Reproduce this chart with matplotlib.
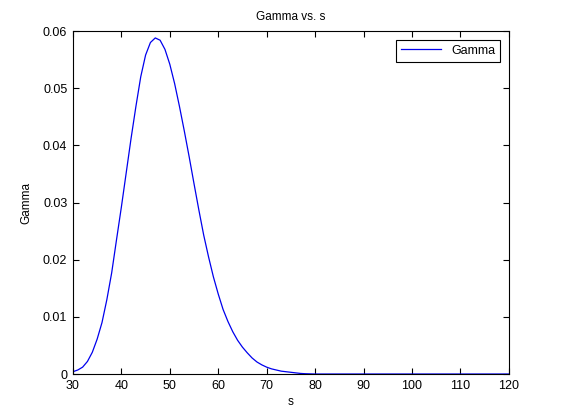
import matplotlib
matplotlib.use("Agg")
from matplotlib import pyplot as plt

# valores
s = [30, 31, 32, 33, 34, 35, 36, 37, 38, 39, 40, 41, 42, 43, 44, 45, 46, 47, 48, 49,
     50, 51, 52, 53, 54, 55, 56, 57, 58, 59, 60, 61, 62, 63, 64, 65, 66, 67, 68, 69,
     70, 71, 72, 73, 74, 75, 76, 77, 78, 80, 90, 100, 110, 120]
gamma = [0.0004, 0.0007, 0.0012, 0.0022, 0.0038, 0.0061, 0.0090, 0.0130, 0.0177, 0.0235,
         0.0292, 0.0352, 0.0412, 0.0468, 0.0520, 0.0558, 0.0580, 0.0588, 0.0584, 0.0568,
         0.0542, 0.0508, 0.0468, 0.0425, 0.0380, 0.0333, 0.0287, 0.0243, 0.0205, 0.0170,
         0.0140, 0.0113, 0.0092, 0.0074, 0.0059, 0.0047, 0.0037, 0.0028, 0.0021, 0.0016,
         0.0012, 0.0009, 0.0007, 0.0005, 0.0004, 0.0003, 0.0002, 0.0001, 0.00005, 0.0,
         0.0, 0.0, 0.0, 0.0]

xticks = [30, 40, 50, 60, 70, 80, 90, 100, 110, 120]
yticks = [0, 0.01, 0.02, 0.03, 0.04, 0.05, 0.06]
yticklabels = ["0", "0.01", "0.02", "0.03", "0.04", "0.05", "0.06"]

plt.rcParams['font.family'] = ['Liberation Sans', 'DejaVu Sans']
plt.rcParams['font.size'] = 8

figure = plt.figure(figsize=(5.61, 4.2), dpi=100)
axes = figure.add_axes([0.130, 0.1095, 0.777, 0.8165])

axes.plot(s, gamma, color='#0000ee', linewidth=0.9, label='Gamma')

axes.set_xlim(30, 120)
axes.set_ylim(0, 0.06)
axes.set_xticks(xticks)
axes.set_yticks(yticks)
axes.set_yticklabels(yticklabels)
axes.tick_params(direction='in', top=True, right=True, length=4, width=0.8, labelsize=9, pad=4)
for lado in axes.spines.values():
    lado.set_linewidth(0.8)

axes.set_title('Gamma vs. s', fontsize=8.5, pad=8)
axes.set_xlabel('s', fontsize=8.5, labelpad=3)
axes.set_ylabel('Gamma', fontsize=8.5, labelpad=8)

leyenda = axes.legend(loc='upper right', fontsize=9, fancybox=False, framealpha=1,
                      edgecolor='black', handlelength=3.2, borderaxespad=0.7)
leyenda.get_frame().set_linewidth(0.8)

figure.savefig('out.png', dpi=100)
